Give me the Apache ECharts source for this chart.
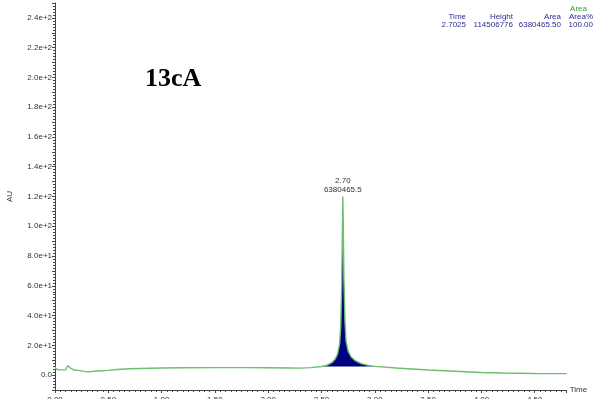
<!DOCTYPE html>
<html><head><meta charset="utf-8">
<script src="https://cdn.jsdelivr.net/npm/echarts@6/dist/echarts.min.js"></script>
<style>html,body{margin:0;padding:0;background:#fff}#c{width:597px;height:399px}</style>
</head><body><div id="c"></div>
<script>
// Chromatogram trace (time in min, AU)
const times = [0.00,0.01,0.03,0.06,0.10,0.12,0.13,0.15,0.18,0.22,0.30,0.40,0.50,0.58,0.70,0.89,1.00,1.20,1.50,1.80,2.00,2.20,2.30,2.40,2.50,2.55,2.60,2.63,2.65,2.67,2.68,2.69,2.695,2.70,2.705,2.71,2.72,2.73,2.75,2.78,2.82,2.87,2.93,3.00,3.20,3.50,3.80,4.00,4.20,4.50,4.80];
const values = [5.6,4.2,3.6,3.5,3.6,6.5,7.8,4.5,3.4,3.2,2.2,2.8,3.2,3.8,4.3,4.6,4.8,4.9,5.0,5.0,4.9,4.8,4.7,5.0,5.8,6.6,8.5,11,14,21,32,62,92,120,96,66,36,23,16,12,9.5,7.8,6.7,5.9,4.8,3.4,2.4,1.8,1.4,1.1,1.0];
const peakStart = 2.50, peakEnd = 3.00, peakBase = 5.8;
const peakTime = 2.70, peakLabel = ["2.70","6380465.5"];
const yTicks = [0,20,40,60,80,100,120,140,160,180,200,220,240];
const xTicks = ["0.00","0.50","1.00","1.50","2.00","2.50","3.00","3.50","4.00","4.50"];
const tableHead = ["Time","Height","Area","Area%"];
const tableVals = ["2.7025","114506776","6380465.50","100.00"];

const lineData = times.map((t,i)=>[t,values[i]]);
const peakData = lineData.filter(p=>p[0]>=peakStart&&p[0]<=peakEnd);
const peakValue = values[times.indexOf(peakTime)];

const chart = echarts.init(document.getElementById('c'),null,{renderer:'canvas'});
const txt = {fontFamily:'Liberation Sans',fontSize:8};
const colX = [466,513,561,593];
const graphics = [
  {type:'text',left:145,top:66,style:{text:'13cA',font:'bold 26px "Liberation Serif"',fill:'#000'}},
  {type:'text',x:587,y:9,style:{text:'Area',fill:'#3a9a3a',align:'right',verticalAlign:'middle',font:'8px "Liberation Sans"'}}
];
tableHead.forEach((h,i)=>graphics.push({type:'text',x:colX[i],y:16.5,style:{text:h,fill:'#2b2b8c',align:'right',verticalAlign:'middle',font:'8px "Liberation Sans"'}}));
tableVals.forEach((h,i)=>graphics.push({type:'text',x:colX[i],y:25,style:{text:h,fill:'#2b2b8c',align:'right',verticalAlign:'middle',font:'8px "Liberation Sans"'}}));

chart.setOption({
  animation:false,
  grid:{left:55,right:30.3,top:3,bottom:9,containLabel:false,outerBoundsMode:'none'},
  xAxis:{type:'value',min:0,max:4.8,interval:0.5,
    name:'Time',nameLocation:'end',nameGap:3,nameTextStyle:{...txt,color:'#333',verticalAlign:'middle',padding:[4,0,0,0]},
    axisLine:{onZero:false,lineStyle:{color:'#444',width:1}},
    axisTick:{length:3,lineStyle:{color:'#444'}},
    minorTick:{show:true,splitNumber:10,length:2,lineStyle:{color:'#444'}},
    axisLabel:{...txt,color:'#333',margin:6,showMaxLabel:false,formatter:v=>{const s=v.toFixed(2);return xTicks.includes(s)?s:'';}},
    splitLine:{show:false}},
  yAxis:{type:'value',min:-10,max:250,interval:10,
    name:'AU',nameLocation:'middle',nameGap:41,nameRotate:90,nameTextStyle:{...txt,color:'#333'},
    axisLine:{show:true,lineStyle:{color:'#444',width:1}},
    axisTick:{length:3,lineStyle:{color:'#444'}},
    minorTick:{show:true,splitNumber:5,length:2,lineStyle:{color:'#444'}},
    axisLabel:{...txt,color:'#333',margin:3,showMaxLabel:false,formatter:v=>{
      if(!yTicks.includes(v)) return '';
      return v===0?'0.0':v.toExponential(1);}},
    splitLine:{show:false}},
  graphic:graphics,
  series:[
    {type:'line',data:peakData,symbol:'none',z:2,lineStyle:{width:0},areaStyle:{color:'#000080',opacity:1,origin:peakBase}},
    {type:'line',data:lineData,symbol:'none',z:3,lineStyle:{color:'#6cbf6c',width:1.4},
      markPoint:{symbol:'circle',symbolSize:0,silent:true,
        label:{show:true,position:'top',distance:2,formatter:peakLabel.join('\n'),fontSize:8,lineHeight:9,color:'#333',fontFamily:'Liberation Sans'},
        data:[{coord:[peakTime,peakValue]}]}}
  ]
});
</script></body></html>
